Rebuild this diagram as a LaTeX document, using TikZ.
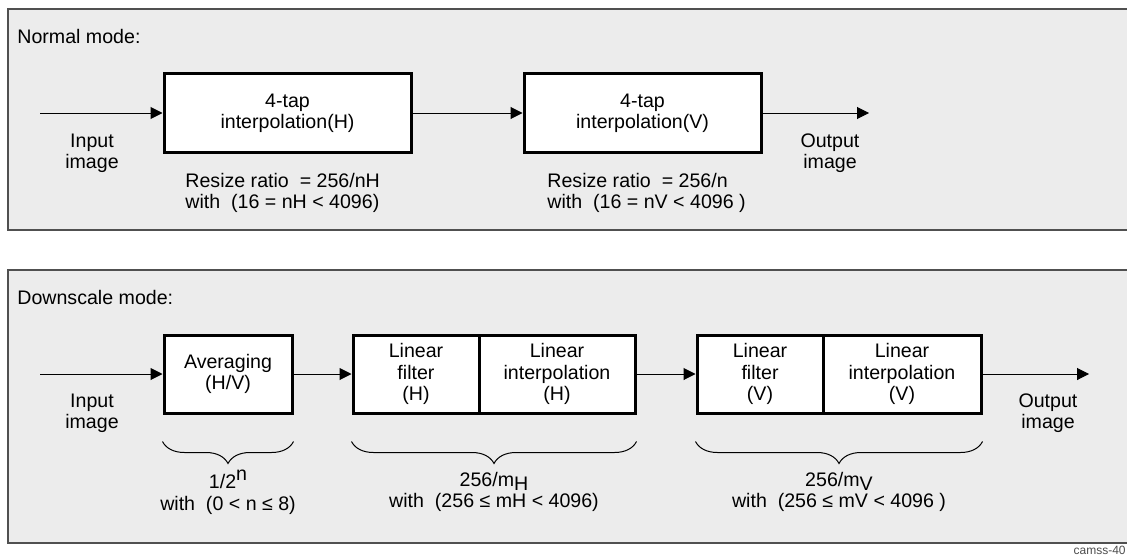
\documentclass[tikz,border=0pt]{standalone}
\usepackage{fontspec}
\setmainfont{Liberation Sans}
\usepackage{xcolor}
\definecolor{panelfill}{HTML}{ECECEC}
\definecolor{panelline}{HTML}{505050}
\usetikzlibrary{arrows.meta, decorations.pathreplacing}

\begin{document}
\begin{tikzpicture}[
    x=0.5pt, y=-0.5pt,
    font=\fontsize{9.8}{10.7}\selectfont,
    panel/.style={draw=panelline, line width=1pt, fill=panelfill},
    box/.style={draw, line width=1.5pt, fill=white, minimum height=39pt, inner sep=0pt, align=center},
    lbl/.style={align=center, inner sep=0pt},
    note/.style={align=left, inner sep=0pt},
    flow/.style={-{Triangle[length=6pt, width=6pt]}, line width=0.5pt},
    brc/.style={decorate, decoration={brace, mirror, amplitude=11pt}, line width=0.5pt},
]
    \useasboundingbox (0,0) rectangle (1127,556);

    % panels
    \draw[panel] (8,9) rectangle (1140,230);
    \draw[panel] (8,270) rectangle (1140,543);

    % normal mode
    \node[note, anchor=west] (tnormal) at (17,36) {Normal mode:};
    \coordinate (nin) at (40,113);
    \coordinate (nout) at (869,113);
    \node[box, minimum width=123.5pt] (nh) at (287.5,113) {4-tap\\interpolation(H)};
    \node[box, minimum width=118.5pt] (nv) at (642.5,113) {4-tap\\interpolation(V)};
    \node[lbl] (nimgin) at (92,153) {Input\\image};
    \node[lbl] (nimgout) at (830,153) {Output\\image};
    \node[note, anchor=west] (nratioh) at (185,193) {Resize ratio \ = 256/nH\\with \ (16 = nH < 4096)};
    \node[note, anchor=west] (nratiov) at (547,193) {Resize ratio \ = 256/n\\with \ (16 = nV < 4096 )};

    \draw[flow] (nin) -- (nh.west);
    \draw[flow] (nh.east) -- (nv.west);
    \draw[flow] (nv.east) -- (nout);

    % downscale mode
    \node[note, anchor=west] (tdown) at (17,297) {Downscale mode:};
    \coordinate (din) at (40,374);
    \coordinate (dout) at (1089,374);
    \node[box, minimum width=64pt] (avg) at (228,374) {Averaging\\(H/V)};
    \node[box, minimum width=63pt] (lfh) at (416,374) {Linear\\filter\\(H)};
    \node[box, minimum width=78pt] (lih) at (557,374) {Linear\\interpolation\\(H)};
    \node[box, minimum width=63pt] (lfv) at (760,374) {Linear\\filter\\(V)};
    \node[box, minimum width=79pt] (liv) at (902,374) {Linear\\interpolation\\(V)};
    \node[lbl] (dimgin) at (92,413) {Input\\image};
    \node[lbl] (dimgout) at (1048,413) {Output\\image};

    \draw[flow] (din) -- (avg.west);
    \draw[flow] (avg.east) -- (lfh.west);
    \draw[flow] (lih.east) -- (lfv.west);
    \draw[flow] (liv.east) -- (dout);

    % braces
    \draw[brc] ([yshift=-13.5pt]avg.south west) -- ([yshift=-13.5pt]avg.south east);
    \draw[brc] ([yshift=-13.5pt]lfh.south west) -- ([yshift=-13.5pt]lih.south east);
    \draw[brc] ([yshift=-13.5pt]lfv.south west) -- ([yshift=-13.5pt]liv.south east);

    \node[lbl] (ravg) at (228,492) {1/2\raisebox{0.8ex}{n}\\with \ (0 < n ≤ 8)};
    \node[lbl] (rh) at (494,492) {256/m\raisebox{-0.35ex}{H}\\with \ (256 ≤ mH < 4096)};
    \node[lbl] (rv) at (839,492) {256/m\raisebox{-0.35ex}{V}\\with \ (256 ≤ mV < 4096 )};

    \node[anchor=south east, inner sep=0.5pt, font=\fontsize{6}{7}\selectfont, text=black!70] (tag) at (1127,556) {camss-40};
\end{tikzpicture}
\end{document}
